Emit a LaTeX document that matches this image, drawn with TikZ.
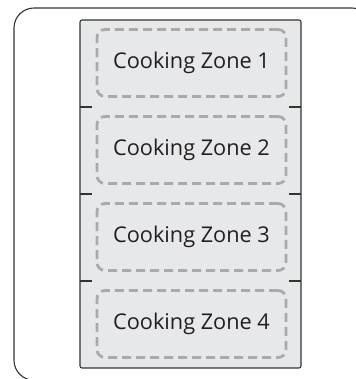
\documentclass[tikz,border=0pt]{standalone}
\usepackage{fontspec}
\setmainfont{Open Sans}
\begin{document}
\begin{tikzpicture}[x=1bp,y=-1bp,
  zoneblock/.style={fill=blockgray,draw=none,minimum width=221bp,minimum height=87bp,inner sep=0pt,outer sep=0pt},
  zonelabel/.style={draw=dashgray,line width=2.8bp,dash pattern=on 9bp off 5bp,rounded corners=8bp,
    minimum width=189bp,minimum height=67bp,inner sep=0pt,font=\fontsize{21.8}{26}\selectfont,text=textdark},
  edge/.style={draw=edgedark,line width=1.1bp}]
\definecolor{blockgray}{HTML}{E7E8EA}
\definecolor{dashgray}{HTML}{AAAAAA}
\definecolor{textdark}{HTML}{231F20}
\definecolor{edgedark}{HTML}{333333}
\useasboundingbox (0,0) rectangle (356,379);
\begin{scope}
\clip (0,0) rectangle (356,379);
\draw[edge,rounded corners=20bp] (14,8) rectangle (372,380.2);
\end{scope}
\node[zoneblock] (z1) at (190.5,63.5) {};
\node[zoneblock] (z2) at (190.5,150.5) {};
\node[zoneblock] (z3) at (190.5,237.5) {};
\node[zoneblock] (z4) at (190.5,324.5) {};
\draw[edge,rounded corners=2bp] (z1.north west) rectangle (z4.south east);
\foreach \a/\b in {z1/z2,z2/z3,z3/z4}{
  \draw[edge] (\a.south west) -- ++(12,0);
  \draw[edge] (\a.south east) -- ++(-12,0);
}
\node[zonelabel] (l1) at (191.5,63) {Cooking Zone 1};
\node[zonelabel] (l2) at (191.5,150) {Cooking Zone 2};
\node[zonelabel] (l3) at (191.5,237) {Cooking Zone 3};
\node[zonelabel] (l4) at (191.5,324) {Cooking Zone 4};
\end{tikzpicture}
\end{document}
